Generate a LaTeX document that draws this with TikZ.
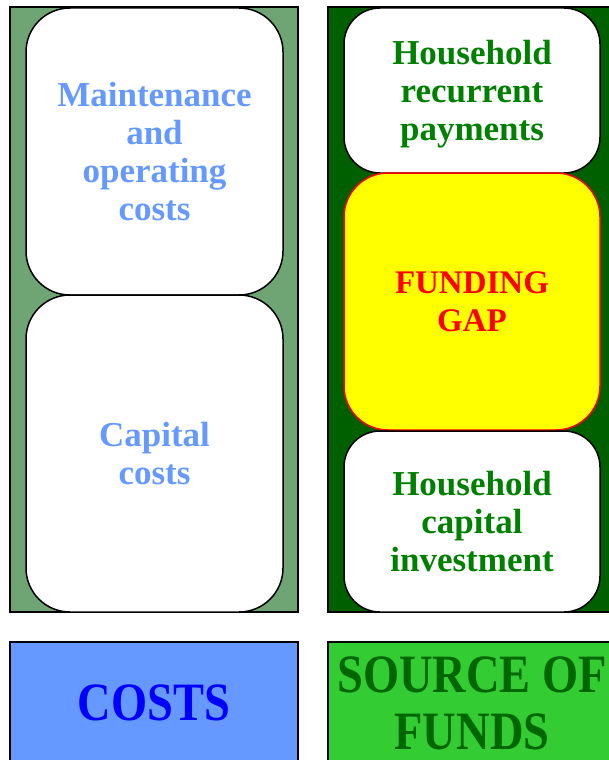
\documentclass[tikz,border=0pt]{standalone}
\usepackage{fontspec}
\setmainfont{Liberation Serif}
\newfontfamily\narrowserif[FakeStretch=0.86]{Liberation Serif}

\definecolor{sage}{RGB}{111,164,116}
\definecolor{forest}{RGB}{0,96,0}
\definecolor{costblue}{RGB}{102,153,255}
\definecolor{fundgreen}{RGB}{51,204,51}
\definecolor{labelgreen}{RGB}{0,128,0}
\definecolor{titlegreen}{RGB}{0,102,0}
\definecolor{gapyellow}{RGB}{255,255,0}

\tikzset{
  panel/.style={draw=black, line width=1.2pt, rectangle, inner sep=0pt,
    minimum width=288pt},
  card/.style={draw=black, line width=1.5pt, fill=white, rectangle,
    inner sep=0pt, align=center,
    font=\bfseries\fontsize{35}{38}\selectfont},
  gapcard/.style={card, draw=red, fill=gapyellow, text=red},
  banner/.style={panel, minimum height=122pt, align=center,
    font=\narrowserif\bfseries\fontsize{54}{57}\selectfont}
}

\begin{document}
\begin{tikzpicture}[x=1pt, y=-1pt]
\useasboundingbox (0,0) rectangle (609,760);
\clip (0,0) rectangle (609,760);

% column backgrounds
\node[panel, fill=sage, minimum height=605pt] (costcol) at (154,309.5) {};
\node[panel, fill=forest, minimum height=605pt] (fundcol) at (472,309.5) {};

% cost items
\node[card, text=costblue, rounded corners=44pt, minimum width=257pt,
      minimum height=287pt] (maint) at (154.5,151.5)
      {Maintenance\\and\\operating\\costs};
\node[card, text=costblue, rounded corners=44pt, minimum width=257pt,
      minimum height=317pt] (capital) at (154.5,453.5)
      {Capital\\costs};

% funding sources
\node[card, text=labelgreen, rounded corners=36pt, minimum width=256pt,
      minimum height=165pt, text depth=0pt] (recur) at (472,90.5)
      {Household\\recurrent\\payments};
\node[gapcard, rounded corners=44pt, minimum width=256pt,
      minimum height=257pt, font=\bfseries\fontsize{33}{38}\selectfont]
      (gap) at (472,301.5) {FUNDING\\GAP};
\node[card, text=labelgreen, rounded corners=36pt, minimum width=256pt,
      minimum height=181pt] (invest) at (472,521.5)
      {Household\\capital\\investment};

% column titles
\node[banner, fill=costblue, text=blue] (costs) at (154,703) {COSTS};
\node[banner, fill=fundgreen, text=titlegreen] (funds) at (472,703)
      {SOURCE OF\\FUNDS};
\end{tikzpicture}
\end{document}
